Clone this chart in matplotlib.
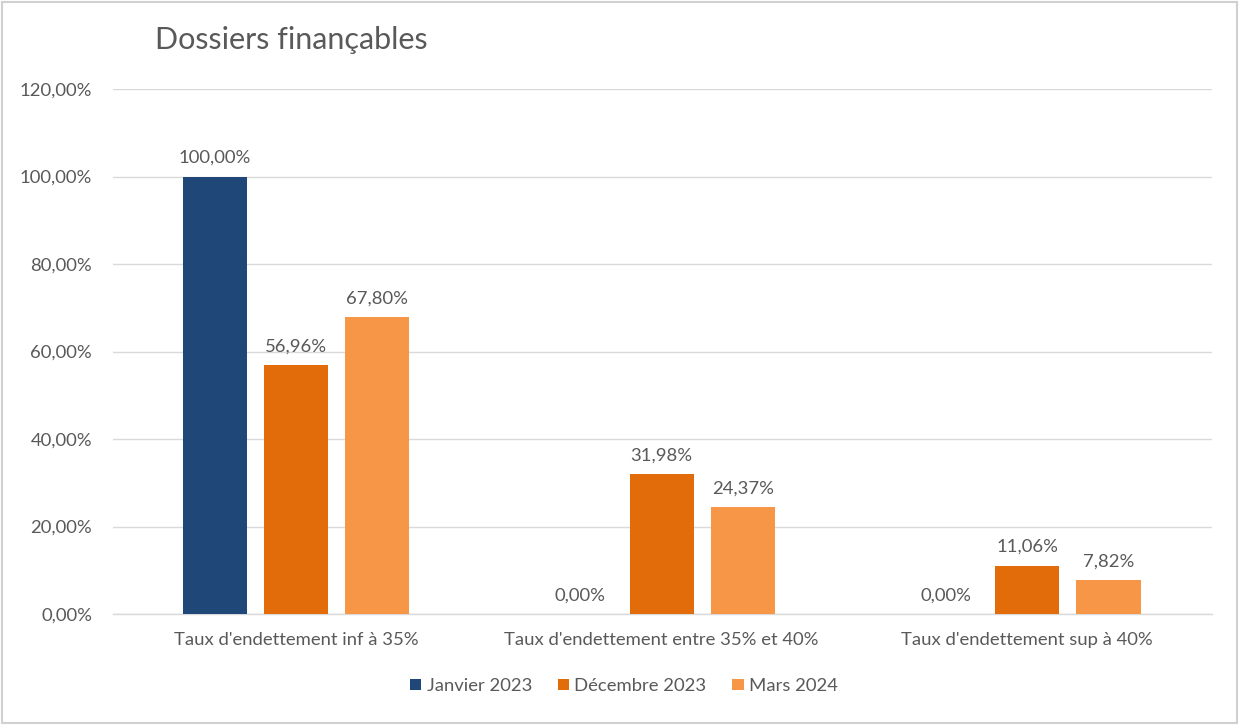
import numpy as np
import matplotlib
matplotlib.use('Agg')
import matplotlib.pyplot as plt
from matplotlib.patches import Rectangle

categories = ["Taux d'endettement inf à 35%",
              "Taux d'endettement entre 35% et 40%",
              "Taux d'endettement sup à 40%"]
series_names = ["Janvier 2023", "Décembre 2023", "Mars 2024"]
janvier_2023 = [100.00, 0.00, 0.00]
decembre_2023 = [56.96, 31.98, 11.06]
mars_2024 = [67.80, 24.37, 7.82]
y_ticks = [0, 20, 40, 60, 80, 100, 120]

colors = ["#1F4778", "#E36C0A", "#F79646"]
text_color = "#595959"
fs = 13.3

plt.rcParams['font.family'] = ['Lato', 'DejaVu Sans']

fig = plt.figure(figsize=(12.39, 7.25), dpi=100)
ax = fig.add_axes([113 / 1239, 1 - 614 / 725, (1212 - 113) / 1239, (614 - 89) / 725])

x = np.arange(len(categories))
width = 0.175
step = 0.222
all_series = [janvier_2023, decembre_2023, mars_2024]
for i, (vals, name, col) in enumerate(zip(all_series, series_names, colors)):
    pos = x + (i - 1) * step
    ax.bar(pos, vals, width, color=col, label=name, zorder=3)
    for p, v in zip(pos, vals):
        ax.text(p, v + 2.4, f"{v:.2f}%".replace(".", ","), ha="center", va="bottom",
                fontsize=fs, color=text_color)

ax.set_xlim(-0.5, 2.505)
ax.set_ylim(0, 120)
ax.set_yticks(y_ticks)
ax.set_yticklabels([f"{t:.2f}%".replace(".", ",") for t in y_ticks], fontsize=fs, color=text_color)
ax.set_xticks(x)
ax.set_xticklabels(categories, fontsize=fs, color=text_color)
ax.tick_params(axis="both", length=0)
ax.tick_params(axis="y", pad=15)
ax.tick_params(axis="x", pad=13)
ax.grid(True, axis="y", color="#D9D9D9", linewidth=1, zorder=0)
for s in ["top", "right", "left"]:
    ax.spines[s].set_visible(False)
ax.spines["bottom"].set_color("#D9D9D9")
ax.spines["bottom"].set_linewidth(1)

fig.text(155 / 1239, 1 - 40 / 725, "Dossiers finançables", fontsize=22, color=text_color,
         ha="left", va="center")

leg = fig.legend(loc="center", bbox_to_anchor=(624 / 1239, 1 - 686 / 725), ncol=3, frameon=False,
                 fontsize=fs, handlelength=0.6, handleheight=0.6, handletextpad=0.3,
                 columnspacing=1.4)
for t in leg.get_texts():
    t.set_color(text_color)

fig.patches.append(Rectangle((0.002, 0.003), 0.996, 0.994, transform=fig.transFigure,
                             fill=False, edgecolor="#D0D0D0", linewidth=1.5))

fig.savefig("out.png", dpi=100)
